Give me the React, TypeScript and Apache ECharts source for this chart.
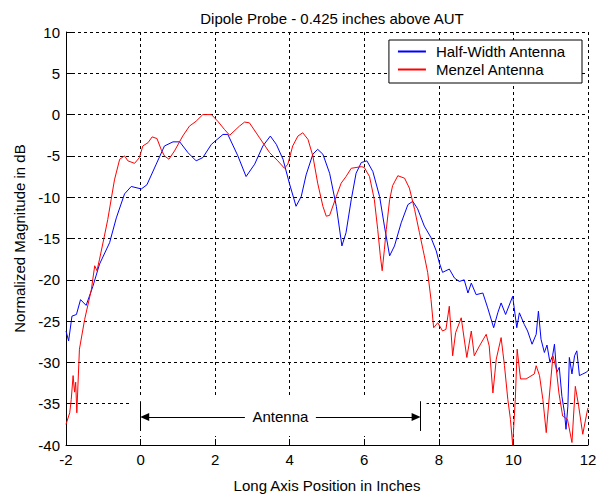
import React, { useEffect, useRef } from "react";
import * as echarts from "echarts";

const titleText = "Dipole Probe - 0.425 inches above AUT";
const xTitle = "Long Axis Position in Inches";
const yTitle = "Normalized Magnitude in dB";
const seriesNames = ["Half-Width Antenna", "Menzel Antenna"];

const halfWidthX = [
  -2.0, -1.93, -1.84, -1.72, -1.61, -1.46, -1.28, -1.1, -0.83, -0.65, -0.43, -0.25, 0.02, 0.17, 0.42, 0.64, 0.87, 1.05,
  1.27, 1.49, 1.67, 1.9, 2.21, 2.34, 2.61, 2.83, 3.06, 3.28, 3.48, 3.64, 3.82, 3.99, 4.17, 4.31, 4.44, 4.62, 4.75, 4.89,
  5.07, 5.25, 5.4, 5.51, 5.65, 5.78, 5.92, 6.07, 6.23, 6.41, 6.54, 6.68, 6.81, 6.99, 7.17, 7.3, 7.43, 7.61, 7.79, 7.93,
  8.01, 8.1, 8.28, 8.42, 8.55, 8.68, 8.78, 8.87, 9.0, 9.18, 9.31, 9.47, 9.58, 9.67, 9.79, 9.98, 10.09, 10.16, 10.29,
  10.38, 10.5, 10.61, 10.67, 10.74, 10.83, 10.9, 10.98, 11.05, 11.1, 11.16, 11.23, 11.3, 11.37, 11.41, 11.46, 11.5,
  11.57, 11.64, 11.7, 11.77, 11.86, 11.95, 12.0,
];
const halfWidthY = [
  -26.2, -27.4, -24.4, -24.2, -22.4, -23.1, -20.8, -18.1, -15.5, -12.5, -9.6, -8.7, -9.0, -8.5, -6.0, -3.8, -3.3, -3.3,
  -4.6, -5.6, -5.2, -3.6, -2.4, -2.4, -5.0, -7.5, -6.0, -3.8, -2.6, -3.6, -5.4, -8.3, -11.1, -9.9, -7.3, -4.8, -4.2, -4.8,
  -7.1, -11.1, -15.9, -14.3, -10.3, -7.1, -5.8, -5.6, -6.9, -9.9, -13.5, -17.1, -15.9, -13.1, -10.9, -10.5, -11.4, -13.5,
  -14.9, -16.5, -17.9, -19.1, -18.7, -19.8, -20.2, -20.0, -21.6, -20.4, -21.8, -21.6, -23.4, -25.8, -24.0, -22.8,
  -24.2, -22.0, -25.8, -24.0, -25.4, -26.2, -27.8, -26.6, -23.8, -27.2, -28.8, -27.9, -30.0, -29.2, -27.8, -31.2,
  -30.6, -34.1, -36.1, -38.1, -35.3, -29.4, -31.4, -29.2, -28.6, -31.6, -31.4, -31.2, -31.0,
];

const menzelX = [
  -2.0, -1.9, -1.86, -1.81, -1.77, -1.74, -1.71, -1.64, -1.5, -1.32, -1.23, -1.17, -1.1, -0.97, -0.88, -0.79, -0.7, -0.56,
  -0.43, -0.34, -0.16, -0.03, 0.06, 0.2, 0.31, 0.44, 0.55, 0.64, 0.76, 0.91, 1.13, 1.31, 1.49, 1.67, 1.9, 2.07, 2.25, 2.39,
  2.65, 2.79, 2.92, 3.19, 3.46, 3.68, 3.86, 3.95, 4.08, 4.22, 4.35, 4.49, 4.62, 4.75, 4.89, 4.98, 5.07, 5.25, 5.38, 5.51,
  5.65, 5.92, 6.0, 6.14, 6.27, 6.36, 6.43, 6.48, 6.54, 6.59, 6.68, 6.76, 6.9, 7.08, 7.21, 7.35, 7.48, 7.61, 7.7, 7.79,
  7.86, 7.97, 8.1, 8.19, 8.28, 8.37, 8.45, 8.6, 8.75, 8.87, 8.95, 9.09, 9.27, 9.35, 9.45, 9.54, 9.67, 9.76, 9.85, 9.92,
  9.98, 10.05, 10.1, 10.19, 10.34, 10.56, 10.61, 10.7, 10.79, 10.88, 10.97, 11.06, 11.15, 11.22, 11.32, 11.45, 11.57,
  11.66, 11.75, 11.86, 11.97, 12.0,
];
const menzelY = [
  -37.5, -36.1, -34.5, -31.6, -33.6, -32.4, -36.1, -28.4, -24.8, -21.2, -18.3, -18.9, -17.5, -14.7, -12.7, -10.3, -7.9,
  -5.4, -5.0, -5.6, -5.9, -5.2, -3.8, -3.4, -2.7, -2.9, -4.2, -5.0, -5.4, -4.4, -2.6, -1.4, -0.8, 0.0, 0.0, -0.8, -1.8,
  -2.5, -1.4, -0.9, -1.0, -2.8, -4.6, -5.6, -6.5, -6.0, -3.8, -2.6, -2.2, -3.0, -5.0, -8.3, -11.1, -12.3, -12.2, -9.9,
  -8.3, -7.5, -6.5, -6.3, -6.4, -7.5, -10.3, -13.9, -17.1, -18.9, -16.3, -13.9, -10.3, -8.6, -7.4, -7.7, -8.9, -11.5,
  -14.3, -17.1, -19.1, -22.4, -25.8, -25.2, -26.2, -26.0, -23.2, -29.2, -26.4, -24.6, -29.4, -26.2, -29.2, -28.0,
  -26.6, -28.0, -33.7, -29.6, -27.0, -30.4, -34.5, -36.9, -40.0, -34.5, -28.4, -32.0, -32.0, -31.4, -30.4, -31.6,
  -34.5, -38.5, -33.7, -29.2, -30.8, -33.7, -36.5, -36.9, -39.7, -32.9, -35.3, -38.7, -36.1, -35.5,
];

// Annotation ("Antenna" span) in data units
const antennaStart = 0;
const antennaEnd = 7.5;
const antennaArrowY = -36.6;
const antennaBarTop = -34.7;
const antennaBarBottom = -38.3;
const antennaLabel = "Antenna";

const FONT = "Liberation Sans, Arial, Helvetica, sans-serif";
const FS = 15;

function zip(xs: number[], ys: number[]) {
  return xs.map((x, i) => [x, ys[i]]);
}

export default function App() {
  const ref = useRef<HTMLDivElement>(null);
  useEffect(() => {
    if (!ref.current) return;
    const chart = echarts.init(ref.current, undefined, { renderer: "svg" });
    const option: any = {
      animation: false,
      backgroundColor: "#ffffff",
      textStyle: { fontFamily: FONT },
      title: {
        text: titleText,
        left: 327,
        textAlign: "center",
        top: 6,
        textStyle: { fontFamily: FONT, fontSize: FS, fontWeight: "normal", color: "#000" },
      },
      grid: { left: 66, right: 12, top: 32, bottom: 52 },
      legend: {
        data: seriesNames,
        orient: "vertical",
        right: 18,
        top: 40,
        backgroundColor: "#fff",
        borderColor: "#000",
        borderWidth: 1,
        padding: [4, 16, 6, 8],
        itemWidth: 28,
        itemHeight: 15,
        itemGap: 3,
        itemStyle: { opacity: 0 },
        textStyle: { fontFamily: FONT, fontSize: FS, color: "#000", padding: [0, 0, 0, 5] },
      },
      xAxis: {
        type: "value",
        min: -2,
        max: 12,
        interval: 2,
        name: xTitle,
        nameLocation: "middle",
        nameGap: 33,
        nameTextStyle: { fontFamily: FONT, fontSize: FS, color: "#000" },
        axisLine: { show: true, onZero: false, lineStyle: { color: "#000", width: 1 } },
        axisTick: { show: true, inside: true, length: 6, lineStyle: { color: "#000" } },
        axisLabel: { fontFamily: FONT, fontSize: FS, color: "#000", margin: 7 },
        splitLine: { show: true, lineStyle: { color: "#000", type: [3, 3], width: 1 } },
      },
      yAxis: {
        type: "value",
        min: -40,
        max: 10,
        interval: 5,
        name: yTitle,
        nameLocation: "middle",
        nameGap: 37,
        nameRotate: 90,
        nameTextStyle: { fontFamily: FONT, fontSize: FS, color: "#000" },
        axisLine: { show: true, onZero: false, lineStyle: { color: "#000", width: 1 } },
        axisTick: { show: true, inside: true, length: 6, lineStyle: { color: "#000" } },
        axisLabel: { fontFamily: FONT, fontSize: FS, color: "#000", margin: 6 },
        splitLine: { show: true, lineStyle: { color: "#000", type: [3, 3], width: 1 } },
      },
      series: [
        {
          name: seriesNames[0],
          type: "line",
          data: zip(halfWidthX, halfWidthY),
          symbol: "none",
          color: "#0000ff",
          lineStyle: { color: "#0000ff", width: 1 },
          z: 3,
        },
        {
          name: seriesNames[1],
          type: "line",
          data: zip(menzelX, menzelY),
          symbol: "none",
          color: "#ff0000",
          lineStyle: { color: "#ff0000", width: 1 },
          z: 4,
        },
        {
          name: "annotation",
          type: "line",
          data: [],
          z: 5,
          silent: true,
          markArea: {
            silent: true,
            itemStyle: { color: "#ffffff", opacity: 1 },
            label: { show: false },
            data: [[{ coord: [antennaStart - 0.24, antennaBarTop + 0.7] }, { coord: [antennaEnd + 0.17, antennaBarBottom - 0.6] }]],
          },
          markLine: {
            silent: true,
            symbol: ["none", "none"],
            symbolSize: [8, 9],
            label: { show: false },
            lineStyle: { color: "#000", type: "solid", width: 1 },
            data: [
              [
                { coord: [antennaStart + 0.11, antennaArrowY], symbol: "triangle" },
                { coord: [antennaEnd - 0.11, antennaArrowY], symbol: "triangle" },
              ],
              [
                { coord: [antennaStart, antennaBarTop], symbol: "none" },
                { coord: [antennaStart, antennaBarBottom], symbol: "none" },
              ],
              [
                { coord: [antennaEnd, antennaBarTop], symbol: "none" },
                { coord: [antennaEnd, antennaBarBottom], symbol: "none" },
              ],
            ],
          },
        },
        {
          name: "annotationLabel",
          type: "line",
          data: [],
          z: 6,
          silent: true,
          markPoint: {
            silent: true,
            symbol: "rect",
            symbolSize: [71, 16],
            itemStyle: { color: "#ffffff" },
            label: { show: true, position: "inside", color: "#000", fontFamily: FONT, fontSize: FS, formatter: antennaLabel },
            data: [{ coord: [(antennaStart + antennaEnd) / 2, antennaArrowY], value: antennaLabel }],
          },
        },
      ],
    };
    chart.setOption(option);
    return () => chart.dispose();
  }, []);
  return (
    <div
      ref={ref}
      style={{ position: "absolute", left: 0, top: 0, width: 600, height: 498, background: "#fff" }}
    />
  );
}
